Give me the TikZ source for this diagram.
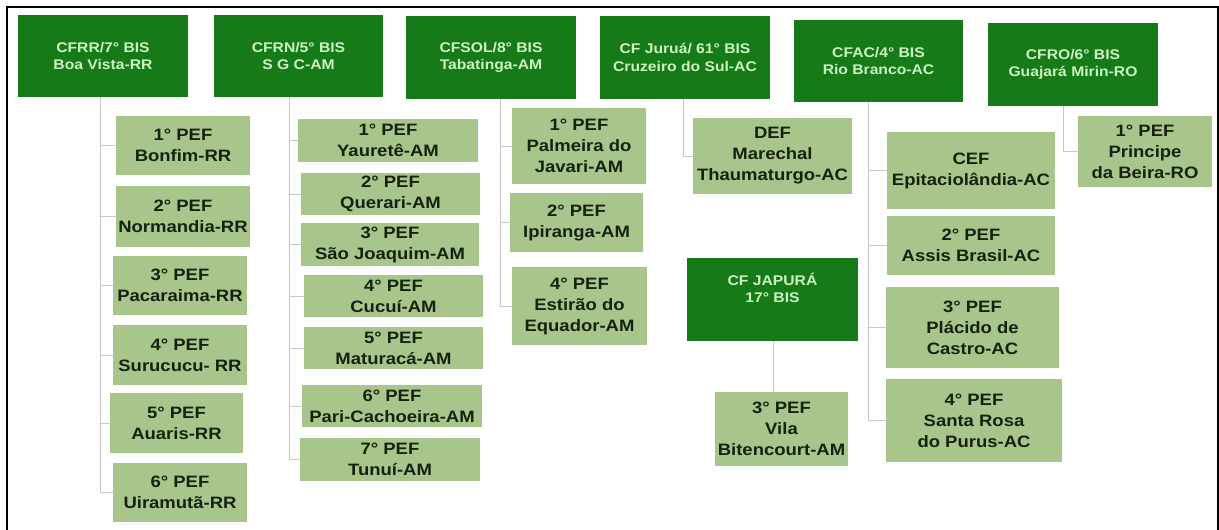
\documentclass[tikz,border=0pt]{standalone}
\usepackage{fontspec}
\setmainfont{Liberation Sans}[FakeStretch=1.12]
\definecolor{pgreen}{RGB}{22,122,24}
\definecolor{ptext}{RGB}{205,245,195}
\definecolor{kgreen}{RGB}{168,197,140}
\definecolor{ktext}{RGB}{22,34,14}
\definecolor{linkgray}{RGB}{200,200,200}
\newcommand\bx[7]{\node[#1, minimum width={#5pt-#3pt}, minimum height={#6pt-#4pt}] (#2) at ({(#3+#5)/2},{(#4+#6)/2}) {#7};}
\begin{document}
\begin{tikzpicture}[x=1pt,y=-1pt,
  parent/.style={fill=pgreen, text=ptext, font=\bfseries\fontsize{14}{17.5}\selectfont, align=center, inner sep=0pt},
  kid/.style={fill=kgreen, text=ktext, font=\bfseries\fontsize{16.5}{21}\selectfont, align=center, inner sep=0pt},
  link/.style={draw=linkgray, line width=1pt}]
\useasboundingbox (0,0) rectangle (1219,530);
\draw[black, line width=1.2pt] (7,530) -- (7,7) -- (1218,7) -- (1218,530);

% parents
\bx{parent}{p1}{18}{15}{188}{97}{CFRR/7° BIS\\Boa Vista-RR}
\bx{parent}{p2}{214}{15}{383}{97}{CFRN/5° BIS\\S G C-AM}
\bx{parent}{p3}{406}{16}{576}{99}{CFSOL/8° BIS\\Tabatinga-AM}
\bx{parent}{p4}{600}{16}{770}{99}{CF Juruá/ 61° BIS\\Cruzeiro do Sul-AC}
\bx{parent}{p5}{794}{20}{963}{102}{CFAC/4° BIS\\Rio Branco-AC}
\bx{parent}{p6}{988}{23}{1158}{106}{CFRO/6° BIS\\Guajará Mirin-RO}
\bx{parent}{p7}{687}{258}{858}{341}{CF JAPURÁ\\17° BIS\\[6pt]}

% CFRR children
\bx{kid}{c1a}{116}{116}{250}{175}{1° PEF\\Bonfim-RR}
\bx{kid}{c1b}{116}{186}{250}{247}{2° PEF\\Normandia-RR}
\bx{kid}{c1c}{113}{256}{247}{315}{3° PEF\\Pacaraima-RR}
\bx{kid}{c1d}{113}{325}{247}{385}{4° PEF\\Surucucu- RR}
\bx{kid}{c1e}{110}{393}{243}{453}{5° PEF\\Auaris-RR}
\bx{kid}{c1f}{113}{463}{247}{522}{6° PEF\\Uiramutã-RR}

% CFRN children
\bx{kid}{c2a}{298}{119}{478}{162}{1° PEF\\Yauretê-AM}
\bx{kid}{c2b}{301}{173}{480}{215}{2° PEF\\Querari-AM}
\bx{kid}{c2c}{301}{223}{479}{266}{3° PEF\\São Joaquim-AM}
\bx{kid}{c2d}{304}{275}{483}{317}{4° PEF\\Cucuí-AM}
\bx{kid}{c2e}{304}{327}{483}{369}{5° PEF\\Maturacá-AM}
\bx{kid}{c2f}{302}{385}{482}{427}{6° PEF\\Pari-Cachoeira-AM}
\bx{kid}{c2g}{300}{438}{480}{481}{7° PEF\\Tunuí-AM}

% CFSOL children
\bx{kid}{c3a}{512}{108}{646}{184}{1° PEF\\Palmeira do\\Javari-AM}
\bx{kid}{c3b}{510}{193}{643}{252}{2° PEF\\Ipiranga-AM}
\bx{kid}{c3c}{512}{267}{647}{345}{4° PEF\\Estirão do\\Equador-AM}

% Jurua child
\bx{kid}{c4a}{693}{118}{852}{194}{DEF\\Marechal\\Thaumaturgo-AC}

% Japura child
\bx{kid}{c7a}{715}{392}{848}{466}{3° PEF\\Vila\\Bitencourt-AM}

% CFAC children
\bx{kid}{c5a}{887}{132}{1055}{209}{CEF\\Epitaciolândia-AC}
\bx{kid}{c5b}{887}{216}{1055}{275}{2° PEF\\Assis Brasil-AC}
\bx{kid}{c5c}{886}{287}{1059}{368}{3° PEF\\Plácido de\\Castro-AC}
\bx{kid}{c5d}{886}{379}{1062}{462}{4° PEF\\Santa Rosa\\do Purus-AC}

% CFRO child
\bx{kid}{c6a}{1078}{116}{1212}{187}{1° PEF\\Principe\\da Beira-RO}

% trunks
\coordinate (t1) at (100,0);
\coordinate (t2) at (289,0);
\coordinate (t3) at (500,0);
\coordinate (t4) at (683,0);
\coordinate (t5) at (868,0);
\coordinate (t6) at (1063,0);
\coordinate (t7) at (773,0);

\foreach \c in {c1a,c1b,c1c,c1d,c1e,c1f}{\draw[link] (t1 |- p1.south) |- (\c.west);}
\foreach \c in {c2a,c2b,c2c,c2d,c2e,c2f,c2g}{\draw[link] (t2 |- p2.south) |- (\c.west);}
\foreach \c in {c3a,c3b,c3c}{\draw[link] (t3 |- p3.south) |- (\c.west);}
\draw[link] (t4 |- p4.south) |- (c4a.west);
\foreach \c in {c5a,c5b,c5c,c5d}{\draw[link] (t5 |- p5.south) |- (\c.west);}
\draw[link] (t6 |- p6.south) |- (c6a.west);
\draw[link] (t7 |- p7.south) -- (t7 |- c7a.north);
\end{tikzpicture}
\end{document}
